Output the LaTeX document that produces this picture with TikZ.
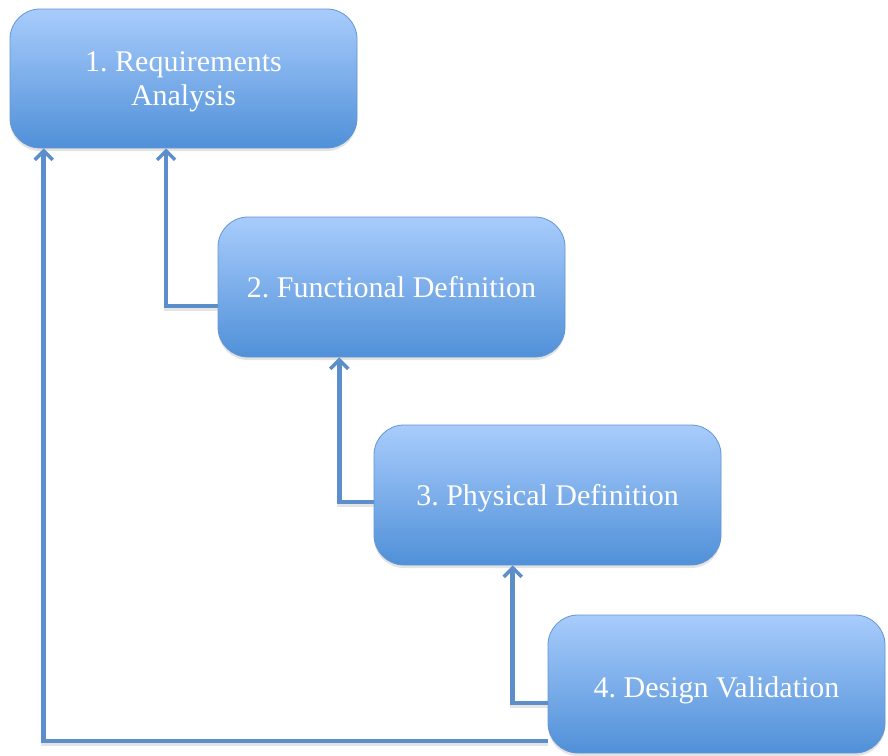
\documentclass[tikz,border=0pt]{standalone}
\usepackage{fontspec}
\setmainfont{Liberation Serif}
\frenchspacing
\usetikzlibrary{arrows.meta,calc,shadows}
\definecolor{boxtop}{RGB}{168,204,252}
\definecolor{boxbottom}{RGB}{80,144,216}
\definecolor{boxedge}{RGB}{100,150,210}
\definecolor{linkblue}{RGB}{92,143,201}
\tikzset{
  stage/.style={rounded corners=30pt, draw=boxedge, line width=0.8pt,
    top color=boxtop, bottom color=boxbottom, text=white,
    font=\fontsize{30}{34}\selectfont, align=center, inner sep=0pt,
    text height=20.5pt, text depth=0pt,
    drop shadow={opacity=0.22, shadow xshift=0pt, shadow yshift=-3pt}},
  link/.style={draw=linkblue, line width=4.5pt,
    -{Straight Barb[length=9pt, width=18pt, line width=3.5pt]},
    preaction={draw=black!30, opacity=0.35, line width=4.5pt,
      transform canvas={yshift=-2.5pt}, -{}}}
}
\begin{document}
\begin{tikzpicture}[x=1pt, y=-1pt]
\useasboundingbox (0,0) rectangle (888,755);

\node[stage, minimum width=347pt, minimum height=139pt, text height=54.5pt] (b1) at (183.5,78.5)
  {1. Requirements\\Analysis};
\node[stage, minimum width=347pt, minimum height=140pt] (b2) at (391.5,287)
  {2. Functional Definition};
\node[stage, minimum width=347pt, minimum height=140pt] (b3) at (547.5,495)
  {3. Physical Definition};
\node[stage, minimum width=337pt, minimum height=138pt, text height=26pt] (b4) at (716.5,684)
  {4. Design Validation};

\draw[link] ([yshift=-19pt]b2.west) -| ($(b1.south west)!0.45!(b1.south east)$);
\draw[link] ([yshift=-7pt]b3.west) -| ($(b2.south west)!0.35!(b2.south east)$);
\draw[link] ([yshift=-19pt]b4.west) -| ($(b3.south west)!0.40!(b3.south east)$);
\draw[link] ([yshift=-57pt]b4.west) -| ($(b1.south west)!0.098!(b1.south east)$);
\end{tikzpicture}
\end{document}
